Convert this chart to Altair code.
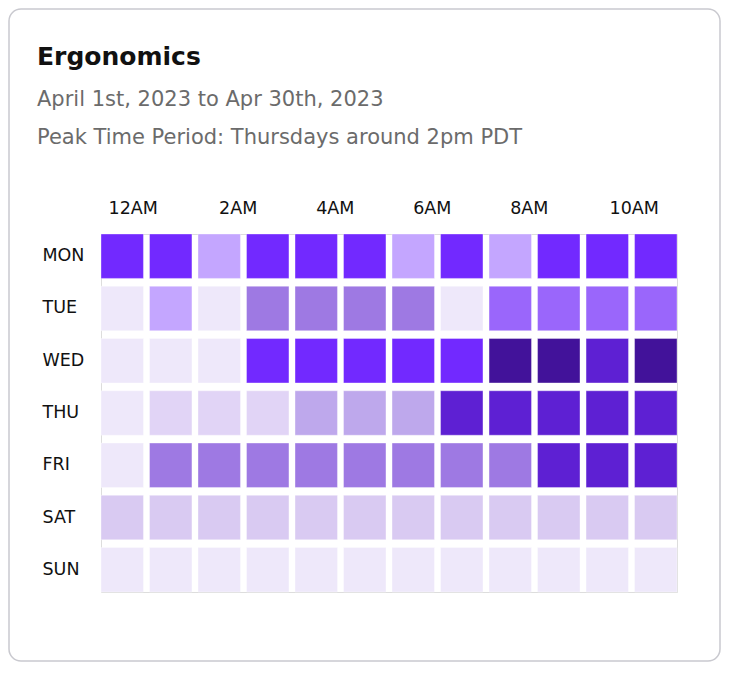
import altair as alt
import pandas as pd

hours = ["12AM", "1AM", "2AM", "3AM", "4AM", "5AM",
         "6AM", "7AM", "8AM", "9AM", "10AM", "11AM"]
hour_ticks = ["12AM", "2AM", "4AM", "6AM", "8AM", "10AM"]
days = ["MON", "TUE", "WED", "THU", "FRI", "SAT", "SUN"]

# activity level per hour
mon = [8, 8, 5, 8, 8, 8, 5, 8, 5, 8, 8, 8]
tue = [1, 5, 1, 6, 6, 6, 6, 1, 7, 7, 7, 7]
wed = [1, 1, 1, 8, 8, 8, 8, 8, 10, 10, 9, 10]
thu = [1, 2, 2, 2, 4, 4, 4, 9, 9, 9, 9, 9]
fri = [1, 6, 6, 6, 6, 6, 6, 6, 6, 9, 9, 9]
sat = [3, 3, 3, 3, 3, 3, 3, 3, 3, 3, 3, 3]
sun = [1, 1, 1, 1, 1, 1, 1, 1, 1, 1, 1, 1]

level_domain = [1, 2, 3, 4, 5, 6, 7, 8, 9, 10]
level_colors = ["#EEE8FA", "#E1D4F6", "#D9CAF2", "#BEA8EC", "#C4A6FF",
                "#9E79E3", "#9A66FB", "#7229FF", "#5E20D3", "#42129A"]

title_text = "Ergonomics"
subtitle_lines = ["April 1st, 2023 to Apr 30th, 2023",
                  "Peak Time Period: Thursdays around 2pm PDT"]

rows = []
for d, vals in zip(days, [mon, tue, wed, thu, fri, sat, sun]):
    for h, v in zip(hours, vals):
        rows.append({"day": d, "hour": h, "level": v})
df = pd.DataFrame(rows)

W, H = 576, 358
PAD_L, PAD_T, PAD_R, PAD_B = 93, 226, 44, 70

card = alt.Chart(alt.Data(values=[{}])).mark_rect(
    filled=False, stroke="#C9C9CF", strokeWidth=1.5, cornerRadius=12
).encode(
    x=alt.value(-PAD_L + 1),
    x2=alt.value(W + PAD_R - 1),
    y=alt.value(-PAD_T + 1),
    y2=alt.value(H + PAD_B - 1),
)

cells = alt.Chart(df).mark_rect(
    stroke="#FFFFFF", strokeWidth=1, strokeOpacity=0.35
).encode(
    x=alt.X("hour:N", sort=hours,
            scale=alt.Scale(paddingInner=0.125, paddingOuter=0),
            axis=alt.Axis(orient="top", values=hour_ticks, title=None,
                          ticks=False, tickSize=0, domain=False, grid=False,
                          labelAngle=0, labelFont="DejaVu Sans",
                          labelFontSize=17.5, labelColor="#111111",
                          labelBaseline="alphabetic", labelPadding=21,
                          labelOffset={"condition": [
                              {"test": "datum.value == '12AM'", "value": 11},
                              {"test": "datum.value == '10AM'", "value": 27}],
                              "value": 19})),
    y=alt.Y("day:N", sort=days,
            scale=alt.Scale(paddingInner=0.15, paddingOuter=0),
            axis=alt.Axis(title=None, ticks=False, tickSize=0, domain=False,
                          grid=False, labelAlign="left", labelPadding=59,
                          labelFont="DejaVu Sans", labelFontSize=17.5,
                          labelColor="#111111", labelBaseline="middle")),
    color=alt.Color("level:O",
                    scale=alt.Scale(domain=level_domain, range=level_colors),
                    legend=None),
)

chart = alt.layer(card, cells).properties(
    width=W, height=H,
    autosize=alt.AutoSizeParams(type="none"),
    padding={"left": PAD_L, "top": PAD_T, "right": PAD_R, "bottom": PAD_B},
    title=alt.TitleParams(
        text=title_text, subtitle=subtitle_lines,
        anchor="start", frame="group", dx=-64, offset=-140,
        font="DejaVu Sans", fontSize=25, fontWeight="bold", color="#111111",
        subtitleFont="DejaVu Sans", subtitleFontSize=21,
        subtitleColor="#6B6B6B", subtitleLineHeight=38, subtitlePadding=19,
    ),
).configure_view(stroke=None).configure(background="#FFFFFF")

chart.save("out.html", embed_options={"renderer": "svg", "actions": False})
